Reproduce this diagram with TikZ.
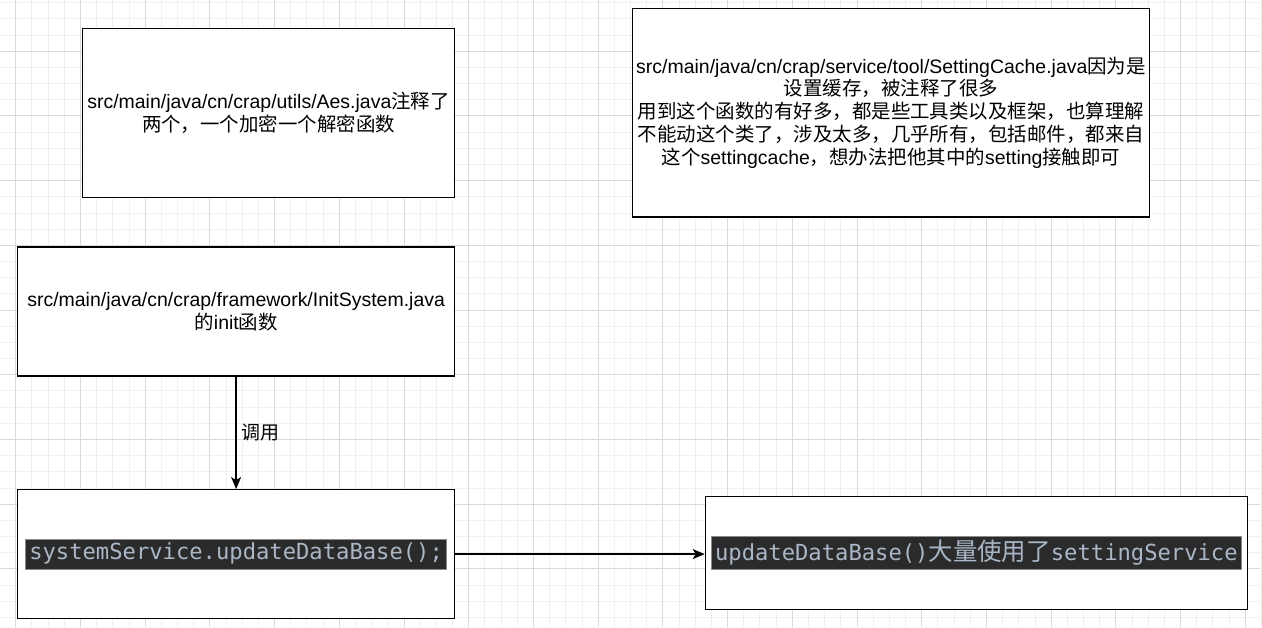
\documentclass[tikz,border=0pt]{standalone}
\usepackage{fontspec}
\setmainfont{Liberation Sans}
\newfontfamily\cjk{Noto Sans CJK SC}
\newfontfamily\codefont{DejaVu Sans Mono}
\usetikzlibrary{arrows.meta,positioning}

\definecolor{gridminor}{HTML}{F0F0F0}
\definecolor{gridmajor}{HTML}{D9D9D9}
\definecolor{codebg}{HTML}{2B2B2B}
\definecolor{codefg}{HTML}{A9B7C6}
\definecolor{codeedge}{HTML}{8A8A8A}

\newcommand{\zhtxt}[1]{{\cjk #1}}
\newcommand{\codetxt}[1]{{\setlength{\fboxsep}{3pt}\setlength{\fboxrule}{0.8pt}%
  \fcolorbox{codeedge}{codebg}{\textcolor{codefg}{\rule[-6pt]{0pt}{23pt}#1}}}}

\begin{document}
\begin{tikzpicture}[
  x=1pt, y=-1pt,
  box/.style={draw, line width=1.3pt, fill=white, align=center, inner sep=2pt,
              font=\fontsize{19.5}{23}\selectfont},
  codebox/.style={box, font=\codefont\fontsize{22.2}{26}\selectfont},
  >={Stealth[length=12pt, width=10pt, inset=3pt]}
]
  % canvas and grid
  \fill[white] (0,0) rectangle (1262,628);
  \foreach \k in {0,...,77}
    \draw[gridminor, line width=1pt] ({15.3+16.205*\k},0) -- ({15.3+16.205*\k},628);
  \foreach \k in {0,...,38}
    \draw[gridminor, line width=1pt] (0,{2.19+16.205*\k}) -- (1262,{2.19+16.205*\k});
  \foreach \k in {0,...,19}
    \draw[gridmajor, line width=1pt] ({15.3+64.82*\k},0) -- ({15.3+64.82*\k},628);
  \foreach \k in {0,...,8}
    \draw[gridmajor, line width=1pt] (0,{50.8+64.82*\k}) -- (1262,{50.8+64.82*\k});
  \useasboundingbox (0,0) rectangle (1262,628);

  \node[box, minimum width=373pt, minimum height=169pt] (aes) at (268.5,112.5)
      {src/main/java/cn/crap/utils/Aes.java\zhtxt{注释了}\\
       \zhtxt{两个，一个加密一个解密函数}};
  \node[box, minimum width=518pt, minimum height=209pt] (cache) at (892,112.5)
      {src/main/java/cn/crap/service/tool/SettingCache.java\zhtxt{因为是}\\
       \zhtxt{设置缓存，被注释了很多}\\
       \zhtxt{用到这个函数的有好多，都是些工具类以及框架，也算理解}\\
       \zhtxt{不能动这个类了，涉及太多，几乎所有，包括邮件，都来自}\\
       \zhtxt{这个}settingcache\zhtxt{，想办法把他其中的}setting\zhtxt{接触即可}};
  \node[box, minimum width=438pt, minimum height=129pt] (init) at (236,311.5)
      {src/main/java/cn/crap/framework/InitSystem.java\\
       \zhtxt{的}init\zhtxt{函数}};
  \node[codebox, minimum width=438pt, minimum height=129pt] (update) at (236,554.5)
      {\codetxt{systemService.updateDataBase();}};
  \node[codebox, minimum width=543pt, minimum height=113pt] (usage) at (977.5,553.5)
      {\codetxt{updateDataBase()\zhtxt{\fontsize{24.5}{26}\selectfont 大量使用了}settingService}};

  % call edges
  \draw[->, line width=1.3pt] (init.south) -- (update.north)
      node[midway, right=1pt, font=\cjk\fontsize{19}{22}\selectfont] (calllbl) {调用};
  \draw[->, line width=1.3pt] (update.east) -- (update.east -| usage.west);
\end{tikzpicture}
\end{document}
